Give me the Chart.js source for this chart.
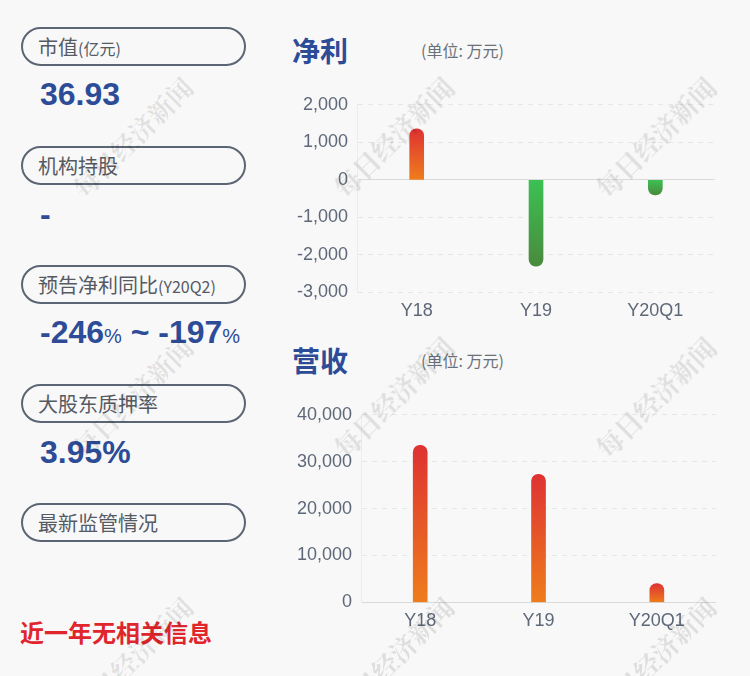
<!DOCTYPE html>
<html>
<head>
<meta charset="utf-8">
<script src="https://cdn.jsdelivr.net/npm/chart.js@4"></script>
<style>
  html, body { margin: 0; padding: 0; background: #f8f8f8; }
  #wrap { position: relative; width: 750px; height: 676px; overflow: hidden; background: #f8f8f8;
    font-family: "Liberation Sans", "Noto Sans CJK SC", sans-serif; }
  .pill { position: absolute; left: 21px; width: 206px; height: 35px; border: 2px solid #5b6573;
    border-radius: 20px; color: #555a63; font-size: 20px; line-height: 35px; padding-left: 15px;
    box-sizing: content-box; font-family: "Noto Sans CJK SC", sans-serif; }
  .pill small { font-size: 16px; }
  .val { position: absolute; left: 40px; color: #2d4c98; font-weight: bold; font-size: 32px; }
  .val small { font-size: 20px; font-weight: normal; }
  .title { position: absolute; left: 292px; color: #2d4c98; font-weight: bold; font-size: 28px;
    font-family: "Noto Sans CJK SC", sans-serif; }
  .unit { position: absolute; left: 421px; color: #6b717b; font-size: 16px;
    font-family: "Noto Sans CJK SC", sans-serif; }
  .note { position: absolute; left: 20px; top: 614px; color: #e0252c; font-weight: bold; font-size: 24px;
    font-family: "Noto Sans CJK SC", sans-serif; }
  .wm { position: absolute; width: 200px; text-align: center; font-size: 26px; font-weight: bold;
    color: rgba(0,0,0,0.1); transform: rotate(-45deg); font-family: "Noto Serif CJK SC", "Noto Sans CJK SC", serif;
    pointer-events: none; z-index: 5; }
  canvas { position: absolute; }
</style>
</head>
<body>
<div id="wrap">
  <div class="pill" style="top:27px">市值<small>(亿元)</small></div>
  <div class="val" style="top:76px">36.93</div>
  <div class="pill" style="top:146px">机构持股</div>
  <div class="val" style="top:196px">-</div>
  <div class="pill" style="top:265px">预告净利同比<small>(Y20Q2)</small></div>
  <div class="val" style="top:314px">-246<small>%</small> ~ -197<small>%</small></div>
  <div class="pill" style="top:384px">大股东质押率</div>
  <div class="val" style="top:434px">3.95%</div>
  <div class="pill" style="top:503px">最新监管情况</div>
  <div class="note">近一年无相关信息</div>

  <div class="title" style="top:30px">净利</div>
  <div class="unit" style="top:38px">(单位: 万元)</div>
  <div class="title" style="top:340px">营收</div>
  <div class="unit" style="top:348px">(单位: 万元)</div>

  <canvas id="profitChart" style="left:288px; top:85px; width:427px; height:237px"></canvas>
  <canvas id="revenueChart" style="left:288px; top:395px; width:428px; height:237px"></canvas>

  <div class="wm" style="left:32px; top:118px">每日经济新闻</div>
  <div class="wm" style="left:293px; top:118px">每日经济新闻</div>
  <div class="wm" style="left:555px; top:118px">每日经济新闻</div>
  <div class="wm" style="left:32px; top:378px">每日经济新闻</div>
  <div class="wm" style="left:293px; top:378px">每日经济新闻</div>
  <div class="wm" style="left:555px; top:378px">每日经济新闻</div>
  <div class="wm" style="left:32px; top:638px">每日经济新闻</div>
  <div class="wm" style="left:293px; top:638px">每日经济新闻</div>
  <div class="wm" style="left:555px; top:638px">每日经济新闻</div>
</div>

<script>
const categories = ["Y18", "Y19", "Y20Q1"];
const netProfit = [1360, -2300, -400];
const revenue = [33500, 27300, 4000];
const profitTicks = [-3000, -2000, -1000, 0, 1000, 2000];
const revenueTicks = [0, 10000, 20000, 30000, 40000];

const tickColor = "#5e6878";
const tickFont = { family: "Liberation Sans", size: 18 };

// per-bar gradient, from the bar end to the zero line
function barColor(context) {
  const chart = context.chart;
  if (!chart.chartArea) return "#e04030";
  const v = context.raw;
  const y = chart.scales.y;
  const yEnd = y.getPixelForValue(v);
  const yZero = y.getPixelForValue(0);
  const g = chart.ctx.createLinearGradient(0, yEnd, 0, yZero);
  if (v >= 0) {
    g.addColorStop(0, "#de3232");
    g.addColorStop(1, "#ee7d1d");
  } else {
    g.addColorStop(0, "#4a8a3d");
    g.addColorStop(1, "#3cc153");
  }
  return g;
}

function makeChart(id, values, ticks) {
  const ctx = document.getElementById(id).getContext("2d");
  return new Chart(ctx, {
    type: "bar",
    data: {
      labels: categories,
      datasets: [
        {
          data: values,
          backgroundColor: barColor,
          barThickness: 14,
          borderRadius: 7,
          borderSkipped: "start",
        },
      ],
    },
    options: {
      responsive: false,
      animation: false,
      layout: { padding: 0 },
      plugins: { legend: { display: false }, tooltip: { enabled: false } },
      scales: {
        x: {
          grid: { display: false },
          border: { display: false },
          ticks: { color: tickColor, font: tickFont, padding: 0 },
        },
        y: {
          min: ticks[0],
          max: ticks[ticks.length - 1],
          afterBuildTicks: (axis) => {
            axis.ticks = ticks.map((v) => ({ value: v }));
          },
          grid: {
            drawTicks: false,
            color: (c) => (c.tick && c.tick.value === 0 ? "#dadada" : "#e6e6e6"),
            lineWidth: 1,
          },
          border: {
            display: true,
            color: "#ececec",
            dash: (c) => (c.tick && c.tick.value === 0 ? [] : [5, 5]),
          },
          ticks: {
            color: tickColor,
            font: tickFont,
            padding: 9,
            callback: (v) => Number(v).toLocaleString("en-US"),
          },
        },
      },
    },
  });
}

makeChart("profitChart", netProfit, profitTicks);
makeChart("revenueChart", revenue, revenueTicks);
</script>
</body>
</html>
